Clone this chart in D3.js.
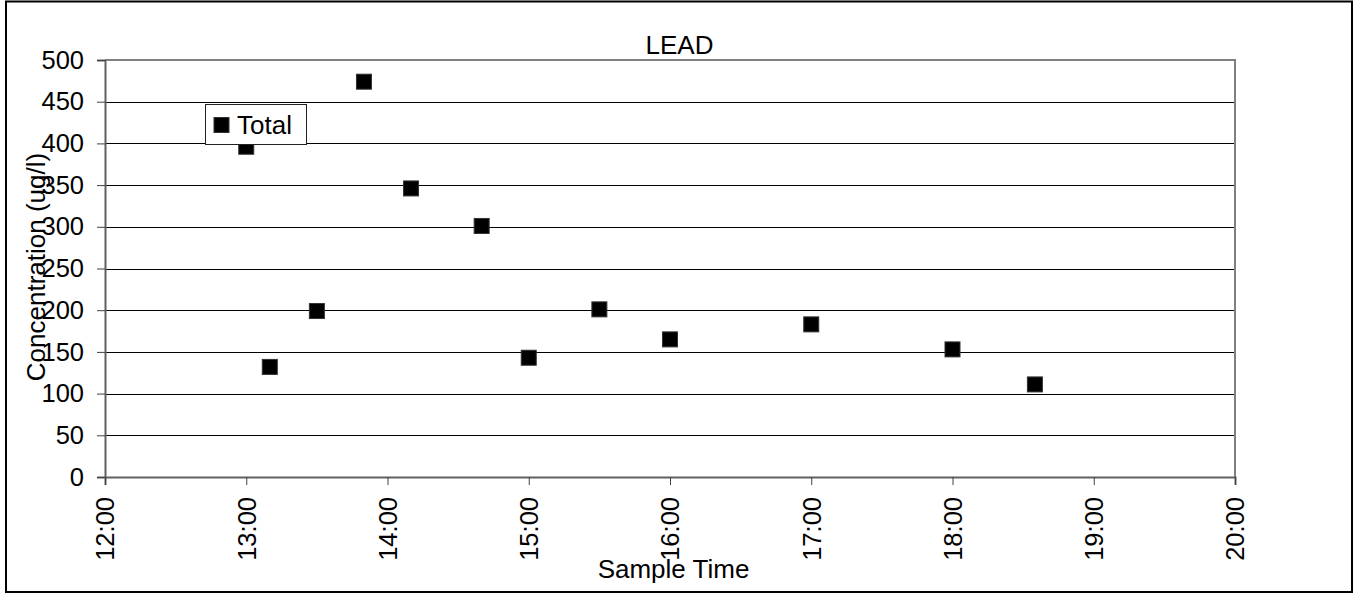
<!DOCTYPE html>
<html>
<head>
<meta charset="utf-8">
<script src="https://cdn.jsdelivr.net/npm/d3@7"></script>
<style>
  html, body { margin: 0; padding: 0; background: #fff; }
  svg { display: block; }
  text { font-family: "Liberation Sans", Arial, sans-serif; fill: #000; }
</style>
</head>
<body>
<svg id="chart" width="1355" height="594"></svg>
<script>
// ---- data ----
const sampleTimes = ["13:00", "13:10", "13:30", "13:50", "14:10", "14:40", "15:00", "15:30", "16:00", "17:00", "18:00", "18:35"];
const totalValues = [396, 132, 199, 474, 346, 301, 143, 201, 165, 183, 153, 111];
const xTickLabels = ["12:00", "13:00", "14:00", "15:00", "16:00", "17:00", "18:00", "19:00", "20:00"];
const yTickValues = [0, 50, 100, 150, 200, 250, 300, 350, 400, 450, 500];
const chartTitle = "LEAD";
const xTitle = "Sample Time";
const yTitle = "Concentration (ug/l)";
const seriesName = "Total";

const parseT = d3.timeParse("%H:%M");
const fmtT = d3.timeFormat("%H:%M");

const svg = d3.select("#chart");
const plot = { left: 105, right: 1235, top: 60, bottom: 477 };

// outer frame
svg.append("rect").attr("x", 6).attr("y", 1.5).attr("width", 1346).attr("height", 590.5)
  .attr("fill", "#fff").attr("stroke", "#000").attr("stroke-width", 2);

const x = d3.scaleTime()
  .domain([parseT(xTickLabels[0]), parseT(xTickLabels[xTickLabels.length - 1])])
  .range([plot.left, plot.right]);
const y = d3.scaleLinear().domain([0, 500]).range([plot.bottom, plot.top]);

// gridlines
svg.append("g").selectAll("line").data(yTickValues.filter(v => v > 0 && v < 500)).join("line")
  .attr("x1", plot.left).attr("x2", plot.right)
  .attr("y1", d => Math.round(y(d)) + 0.5).attr("y2", d => Math.round(y(d)) + 0.5)
  .attr("stroke", "#000").attr("stroke-width", 1);

// plot frame (top & right)
svg.append("path")
  .attr("d", `M${plot.left},${plot.top}H${plot.right}V${plot.bottom}`)
  .attr("fill", "none").attr("stroke", "#808080").attr("stroke-width", 2);

// y axis
const yAxis = d3.axisLeft(y).tickValues(yTickValues).tickSize(8).tickPadding(13).tickFormat(d3.format("d"));
const gy = svg.append("g").attr("transform", `translate(${plot.left},0)`).call(yAxis);
gy.select(".domain").attr("stroke", "#606060").attr("stroke-width", 2);
gy.selectAll(".tick line").attr("stroke", "#404040");
gy.selectAll(".tick text").attr("font-size", 25.5).attr("font-family", "Liberation Sans, Arial, sans-serif").attr("fill", "#000");

// x axis
const xAxis = d3.axisBottom(x).tickValues(xTickLabels.map(parseT)).tickSize(8).tickFormat(fmtT);
const gx = svg.append("g").attr("transform", `translate(0,${plot.bottom})`).call(xAxis);
gx.select(".domain").attr("stroke", "#606060").attr("stroke-width", 2);
gx.selectAll(".tick line").attr("stroke", "#404040");
gx.selectAll(".tick text")
  .attr("font-size", 25.5).attr("font-family", "Liberation Sans, Arial, sans-serif").attr("fill", "#000")
  .attr("text-anchor", "end").attr("dy", "0.35em")
  .attr("transform", "translate(0,20) rotate(-90)")
  .attr("x", 0).attr("y", 0);

// points
const pts = sampleTimes.map((t, i) => ({ t: parseT(t), v: totalValues[i] }));
const S = 15;
svg.append("g").selectAll("rect").data(pts).join("rect")
  .attr("x", d => x(d.t) - S / 2).attr("y", d => y(d.v) - S / 2)
  .attr("width", S).attr("height", S)
  .attr("fill", "#000").attr("stroke", "#333").attr("stroke-width", 1);

// legend
const lg = svg.append("g");
lg.append("rect").attr("x", 205.5).attr("y", 104.5).attr("width", 101).attr("height", 40)
  .attr("fill", "#fff").attr("stroke", "#222").attr("stroke-width", 1);
lg.append("rect").attr("x", 214).attr("y", 117.5).attr("width", 15).attr("height", 15)
  .attr("fill", "#000").attr("stroke", "#333");
lg.append("text").attr("x", 237).attr("y", 134).attr("font-size", 26).text(seriesName);

// titles
svg.append("text").attr("x", 679.5).attr("y", 54).attr("text-anchor", "middle").attr("font-size", 26).text(chartTitle);
svg.append("text").attr("x", 673.5).attr("y", 578).attr("text-anchor", "middle").attr("font-size", 26).text(xTitle);
svg.append("text").attr("transform", "translate(45,267) rotate(-90)").attr("text-anchor", "middle").attr("font-size", 26).text(yTitle);
</script>
</body>
</html>
